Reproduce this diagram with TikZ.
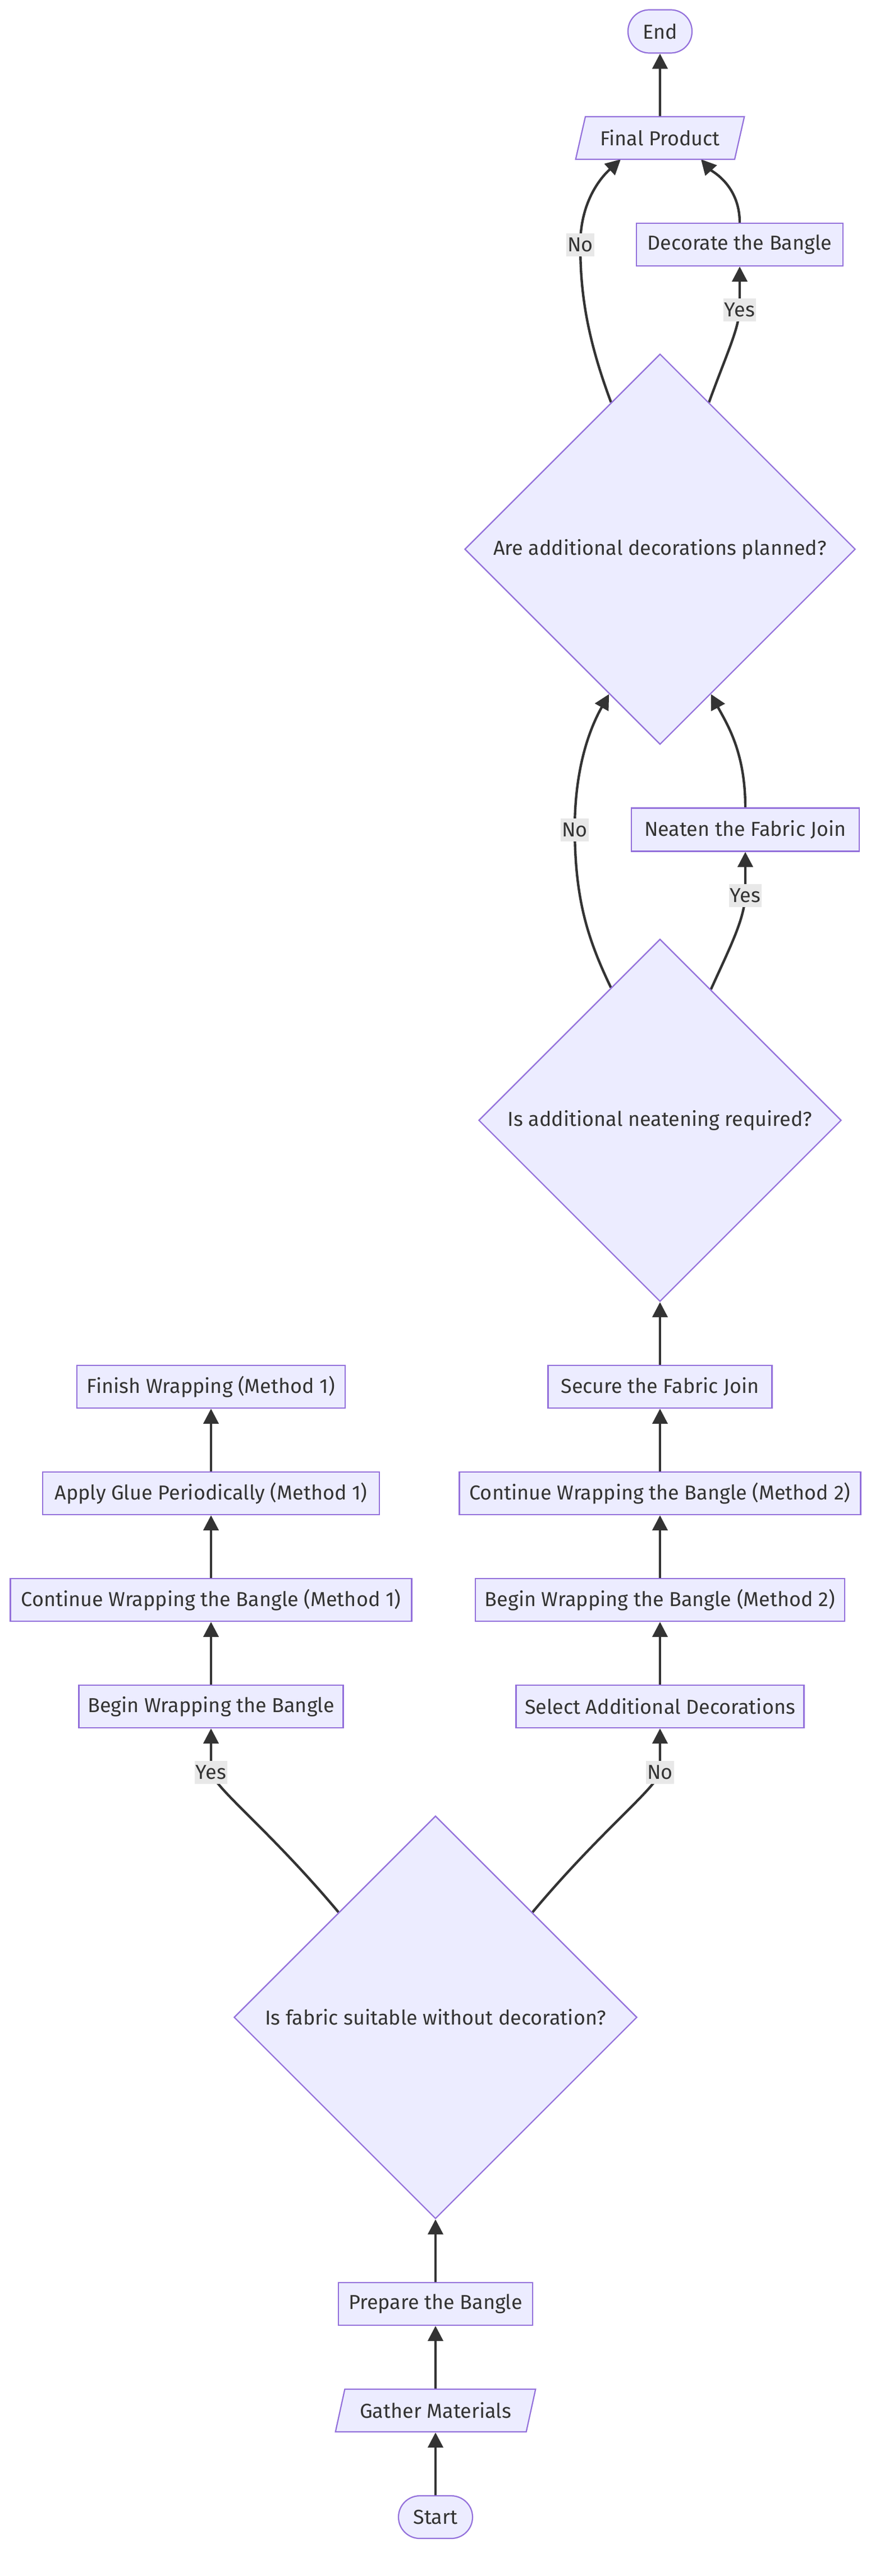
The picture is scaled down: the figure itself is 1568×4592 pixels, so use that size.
\documentclass[tikz,border=0pt]{standalone}
\usepackage{fontspec}
\setmainfont{Fira Sans}
\usetikzlibrary{arrows.meta,shapes.geometric,calc}
\definecolor{nodefill}{HTML}{ECECFF}
\definecolor{nodeline}{HTML}{9370DB}
\definecolor{ink}{HTML}{333333}
\definecolor{lblbg}{HTML}{E8E8E8}
\pgfdeclarelayer{bg}
\pgfdeclarelayer{edges}
\pgfsetlayers{bg,edges,main}
\begin{document}
\begin{tikzpicture}[x=0.5pt,y=-0.5pt,
  every node/.style={font=\fontsize{18}{22}\selectfont, text=ink},
  box/.style={draw=nodeline, fill=nodefill, line width=1.1pt, rectangle, minimum height=38pt, inner sep=0pt},
  term/.style={box, rounded corners=19pt},
  para/.style={draw=nodeline, fill=nodefill, line width=1.1pt, trapezium, trapezium left angle=64, trapezium right angle=116, minimum height=38pt, inner sep=0pt, trapezium stretches=true},
  dec/.style={draw=nodeline, fill=nodefill, line width=1.1pt, diamond, inner sep=0pt, aspect=1},
  flow/.style={draw=ink, line width=2.2pt, -{Triangle[length=13.5pt,width=13.5pt]}},
  lbl/.style={fill=lblbg, inner xsep=1pt, inner ysep=0pt, minimum height=20.5pt}
]
\begin{pgfonlayer}{bg}
\fill[white] (0,0) rectangle (1568,4592);
\end{pgfonlayer}
\useasboundingbox (0,0) rectangle (1568,4592);

% main nodes
\node[term, minimum width=57pt, minimum height=38.5pt] (end) at (1176,56) {End};
\node[para, minimum width=150.5pt] (fp) at (1176,246) {Final Product};
\node[box, minimum width=184pt] (deco) at (1318,436) {Decorate the Bangle};
\node[dec, minimum width=348pt, minimum height=348pt] (d1) at (1176,979) {Are additional decorations planned?};
\node[box, minimum width=203pt, minimum height=38.5pt] (neat) at (1328,1479) {Neaten the Fabric Join};
\node[dec, minimum width=323pt, minimum height=323pt] (d2) at (1176,1997) {Is additional neatening required?};
\node[box, minimum width=199.5pt] (secure) at (1176,2472) {Secure the Fabric Join};
\node[box, minimum width=357.5pt] (contb) at (1176,2662) {Continue Wrapping the Bangle (Method 2)};
\node[box, minimum width=329pt] (beginb) at (1176,2852) {Begin Wrapping the Bangle (Method 2)};
\node[box, minimum width=256.5pt] (select) at (1176,3042) {Select Additional Decorations};
\node[box, minimum width=239pt] (finish) at (376,2472) {Finish Wrapping (Method 1)};
\node[box, minimum width=300pt] (glue) at (376,2662) {Apply Glue Periodically (Method 1)};
\node[box, minimum width=357.5pt] (conta) at (376,2852) {Continue Wrapping the Bangle (Method 1)};
\node[box, minimum width=235.5pt] (begina) at (376,3042) {Begin Wrapping the Bangle};
\node[dec, minimum width=359pt, minimum height=359pt] (d3) at (776,3596) {Is fabric suitable without decoration?};
\node[box, minimum width=173pt] (prep) at (776,4107) {Prepare the Bangle};
\node[para, minimum width=178.5pt] (gather) at (776,4297) {Gather Materials};
\node[term, minimum width=66pt] (start) at (776,4487) {Start};

% edge labels
\node[lbl] (lno1) at (1034,436) {No};
\node[lbl] (lyes1) at (1318,552) {Yes};
\node[lbl] (lno2) at (1024,1479) {No};
\node[lbl] (lyes2) at (1328,1596) {Yes};
\node[lbl] (lyes3) at (376,3159) {Yes};
\node[lbl] (lno3) at (1176,3159) {No};

\begin{pgfonlayer}{edges}
\draw[flow] (start) -- (gather);
\draw[flow] (gather) -- (prep);
\draw[flow] (prep) -- (d3);
\draw[flow] ($(d3.north)!0.48!(d3.west)$) .. controls (480,3262) and (385,3190) .. (lyes3.center) -- (begina.south);
\draw[flow] ($(d3.north)!0.48!(d3.east)$) .. controls (1072,3262) and (1167,3190) .. (lno3.center) -- (select.south);
\draw[flow] (begina) -- (conta);
\draw[flow] (conta) -- (glue);
\draw[flow] (glue) -- (finish);
\draw[flow] (select) -- (beginb);
\draw[flow] (beginb) -- (contb);
\draw[flow] (contb) -- (secure);
\draw[flow] (secure) -- (d2);
\draw[flow] ($(d2.north)!0.28!(d2.east)$) .. controls (1300,1690) and (1326,1640) .. (lyes2.center) -- (neat.south);
\draw[flow] ($(d2.north)!0.27!(d2.west)$) .. controls (1045,1670) and (1025,1600) .. (lno2.center) .. controls (1024,1370) and (1050,1300) .. ($(d1.south)!0.26!(d1.west)$);
\draw[flow] (neat.north) .. controls (1328,1340) and (1295,1290) .. ($(d1.south)!0.26!(d1.east)$);
\draw[flow] ($(d1.north)!0.25!(d1.east)$) .. controls (1295,630) and (1315,590) .. (lyes1.center) -- (deco.south);
\draw[flow] ($(d1.north)!0.25!(d1.west)$) .. controls (1045,600) and (1034,520) .. (lno1.center) .. controls (1034,350) and (1080,308) .. ($(fp.center)+(-70,38)$);
\draw[flow] (deco.north) .. controls (1318,330) and (1268,305) .. ($(fp.center)+(73,38)$);
\draw[flow] (fp) -- (end);
\end{pgfonlayer}
\end{tikzpicture}
\end{document}
